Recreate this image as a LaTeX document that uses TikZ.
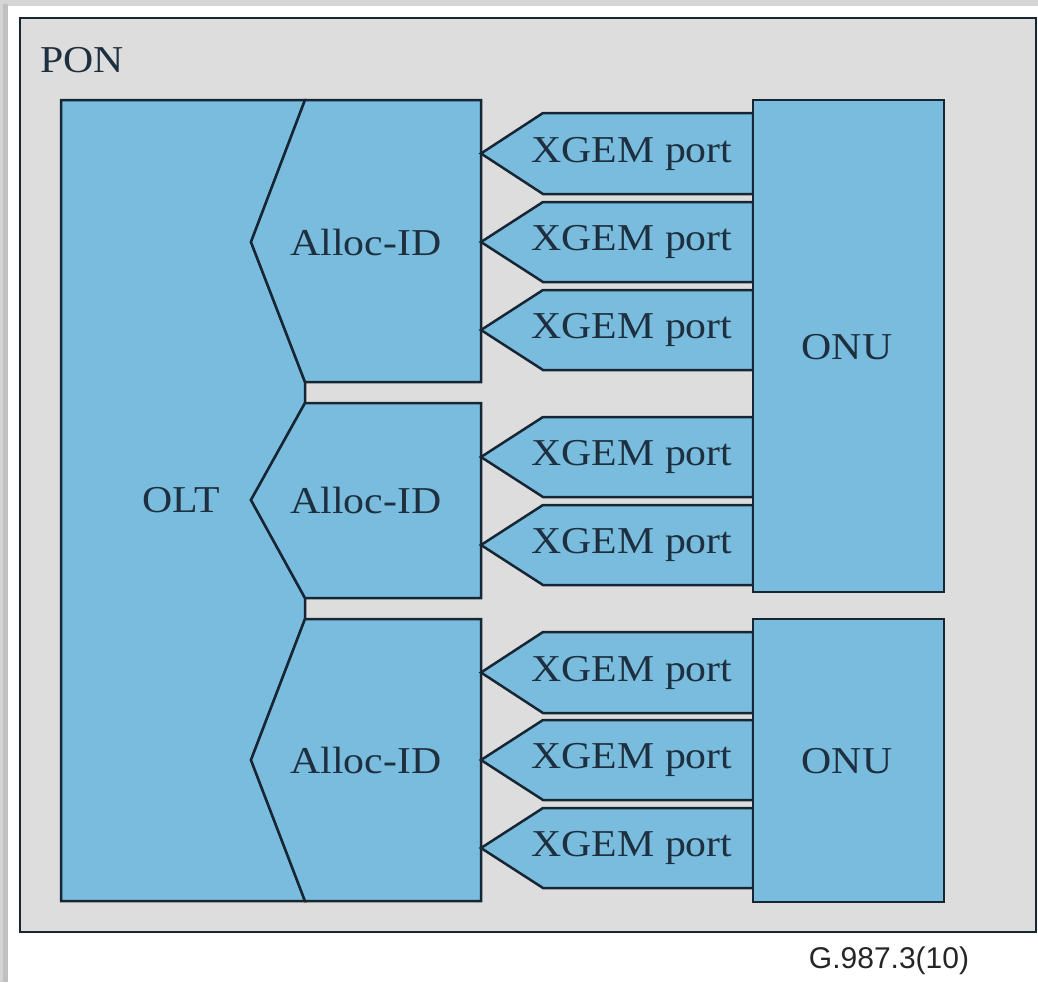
\documentclass[tikz,border=0pt]{standalone}
\usepackage{fontspec}
\setmainfont{Liberation Serif}
\newfontfamily\capfont{Liberation Sans}
\definecolor{bluefill}{RGB}{121,188,221}
\definecolor{ponfill}{RGB}{221,221,221}
\definecolor{edge}{RGB}{24,38,52}
\definecolor{txt}{RGB}{30,48,64}
\definecolor{shadow}{RGB}{192,192,192}
\definecolor{shadowlt}{RGB}{212,212,212}
\newcommand{\wide}[1]{\scalebox{1.1}[1]{#1}}
\begin{document}
\begin{tikzpicture}[x=1pt,y=-1pt,
  blk/.style={fill=bluefill,draw=edge,line width=2.5pt,line join=miter},
  lbl/.style={text=txt,font=\fontsize{38}{40}\selectfont,inner sep=0pt}]
\useasboundingbox (0,0) rectangle (1038,982);
\fill[white] (0,0) rectangle (1038,982);
% screenshot shadow
\fill[shadowlt] (0,0) rectangle (1038,6);
\fill[shadowlt] (0,0) rectangle (3,982);
\fill[shadow] (3,4) rectangle (8,982);
% PON frame
\draw[fill=ponfill,draw=edge,line width=2pt] (20,18) rectangle (1036,932);
\node[lbl,anchor=base west] (pon) at (40,73) {\wide{PON}};
% OLT
\draw[blk] (61,100) -- (305,100) -- (251,242) -- (305,382) -- (305,403) -- (251,500) -- (305,598)
  -- (305,619) -- (251,760) -- (305,901) -- (61,901) -- cycle;
% Alloc-IDs
\draw[blk] (305,100) -- (481,100) -- (481,382) -- (305,382) -- (251,242) -- cycle;
\draw[blk] (305,403) -- (481,403) -- (481,598) -- (305,598) -- (251,500) -- cycle;
\draw[blk] (305,619) -- (481,619) -- (481,901) -- (305,901) -- (251,760) -- cycle;
% XGEM ports
\foreach \t/\b in {113/194, 202/282, 290/370, 417/497, 505/585, 632/713, 720/800, 808/888}{
  \draw[blk] (543,\t) -- (753,\t) -- (753,\b) -- (543,\b) -- (481,{(\t+\b)/2}) -- cycle;
}
% ONUs
\draw[blk] (753,100) rectangle (944,592);
\draw[blk] (753,619) rectangle (944,902);
% labels
\node[lbl] (olt) at (181,500) {\wide{OLT}};
\node[lbl] (a1) at (366,242) {\wide{Alloc-ID}};
\node[lbl] (a2) at (366,500) {\wide{Alloc-ID}};
\node[lbl] (a3) at (366,760) {\wide{Alloc-ID}};
\foreach \n/\t/\b in {p1/113/194, p2/202/282, p3/290/370, p4/417/497, p5/505/585, p6/632/713, p7/720/800, p8/808/888}{
  \node[lbl] (\n) at (632,{(\t+\b)/2}) {\wide{XGEM port}};
}
\node[lbl] (onu1) at (847,347) {\wide{ONU}};
\node[lbl] (onu2) at (847,761) {\wide{ONU}};
\node[text=black!85,font=\capfont\fontsize{30}{32}\selectfont,inner sep=0pt] (cap) at (889,961) {G.987.3(10)};
\end{tikzpicture}
\end{document}
